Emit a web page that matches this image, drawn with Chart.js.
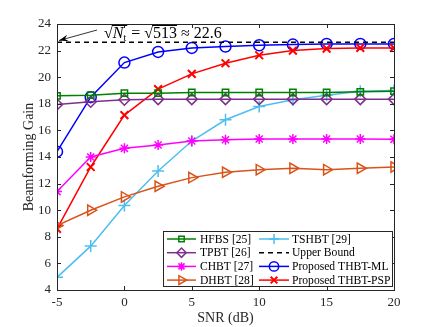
<!DOCTYPE html>
<html>
<head>
<meta charset="utf-8">
<script src="https://cdn.jsdelivr.net/npm/chart.js@4.4.1/dist/chart.umd.min.js"></script>
<style>
  html, body { margin: 0; padding: 0; background: #fff; }
  #wrap { width: 436px; height: 327px; }
</style>
</head>
<body>
<div id="wrap"><canvas id="chart" width="436" height="327"></canvas></div>
<script>
// data
const snr = [-5, -2.5, 0, 2.5, 5, 7.5, 10, 12.5, 15, 17.5, 20];
const hfbs   = [18.6, 18.65, 18.8, 18.8, 18.85, 18.85, 18.85, 18.85, 18.85, 18.9, 18.95];
const tpbt   = [17.95, 18.15, 18.3, 18.35, 18.35, 18.35, 18.35, 18.35, 18.35, 18.35, 18.35];
const chbt   = [11.4, 14.0, 14.65, 14.9, 15.2, 15.3, 15.35, 15.35, 15.35, 15.35, 15.33];
const dhbt   = [8.85, 10.0, 11.0, 11.8, 12.45, 12.85, 13.05, 13.15, 13.05, 13.15, 13.25];
const tshbt  = [4.95, 7.3, 10.35, 12.95, 15.2, 16.8, 17.8, 18.3, 18.65, 18.95, 19.0];
const upper  = [22.62, 22.62, 22.62, 22.62, 22.62, 22.62, 22.62, 22.62, 22.62, 22.62, 22.62];
const thbtMl = [14.4, 18.5, 21.1, 21.9, 22.2, 22.3, 22.4, 22.45, 22.5, 22.5, 22.5];
const thbtPsp = [8.6, 13.25, 17.15, 19.1, 20.25, 21.05, 21.65, 22.0, 22.15, 22.2, 22.2];
const yTicks = [4, 6, 8, 10, 12, 14, 16, 18, 20, 22, 24];
const xTicks = [-5, 0, 5, 10, 15, 20];

const serif = '"Liberation Serif", "DejaVu Serif", serif';
const axisColor = '#262626';

function series(label, values, color, style, extra) {
    return Object.assign({
        label: label,
        data: values.map((v, i) => ({ x: snr[i], y: v })),
        borderColor: color,
        backgroundColor: 'rgba(0,0,0,0)',
        pointBorderColor: color,
        pointBackgroundColor: 'rgba(0,0,0,0)',
        pointStyle: style,
        pointRadius: 5,
        pointBorderWidth: 1.5,
        borderWidth: 1.5,
        tension: 0
    }, extra || {});
}

const datasets = [
    series('Upper Bound', upper, '#000000', false, { borderDash: [5, 4], pointRadius: 0, borderWidth: 1.5 }),
    series('HFBS [25]', hfbs, '#008000', 'rect', { pointRadius: 4.5 }),
    series('TPBT [26]', tpbt, '#7E2F8E', 'rectRot', { pointRadius: 5.5 }),
    series('CHBT [27]', chbt, '#FF00FF', 'star', { pointRadius: 5 }),
    series('DHBT [28]', dhbt, '#D95319', 'triangle', { pointRotation: 90, pointRadius: 6 }),
    series('TSHBT [29]', tshbt, '#4DBEEE', 'cross', { pointRadius: 6 }),
    series('Proposed THBT-PSP', thbtPsp, '#FF0000', 'crossRot', { pointRadius: 5.5, pointBorderWidth: 2 }),
    series('Proposed THBT-ML', thbtMl, '#0000FF', 'circle', { pointRadius: 5.5 })
];

// legend order as in the figure: left column then right column
const legendOrder = [
    ['HFBS [25]', 'TSHBT [29]'],
    ['TPBT [26]', 'Upper Bound'],
    ['CHBT [27]', 'Proposed THBT-ML'],
    ['DHBT [28]', 'Proposed THBT-PSP']
];

// box, inward ticks, annotation and legend
const decorations = {
    id: 'decorations',
    afterDatasetsDraw(chart) {
        const ctx = chart.ctx;
        const a = chart.chartArea;
        const xs = chart.scales.x, ys = chart.scales.y;
        ctx.save();
        ctx.strokeStyle = axisColor;
        ctx.lineWidth = 1;
        ctx.strokeRect(Math.round(a.left) + 0.5, Math.round(a.top) + 0.5,
            Math.round(a.right - a.left), Math.round(a.bottom - a.top));
        ctx.beginPath();
        xTicks.forEach(v => {
            const px = Math.round(xs.getPixelForValue(v)) + 0.5;
            ctx.moveTo(px, a.bottom); ctx.lineTo(px, a.bottom - 4);
            ctx.moveTo(px, a.top); ctx.lineTo(px, a.top + 4);
        });
        yTicks.forEach(v => {
            const py = Math.round(ys.getPixelForValue(v)) + 0.5;
            ctx.moveTo(a.left, py); ctx.lineTo(a.left + 4, py);
            ctx.moveTo(a.right, py); ctx.lineTo(a.right - 4, py);
        });
        ctx.stroke();

        // annotation: sqrt(N_t) = sqrt(513) ~ 22.6
        ctx.fillStyle = '#000';
        ctx.strokeStyle = '#000';
        const base = 38;
        let x = 104;
        ctx.font = '16px ' + serif;
        ctx.fillText('\u221A', x, base);
        x += ctx.measureText('\u221A').width;
        const nStart = x;
        ctx.font = 'italic 16px ' + serif;
        ctx.fillText('N', x, base);
        x += ctx.measureText('N').width;
        ctx.font = '10px ' + serif;
        ctx.fillText('t', x, base + 3);
        x += ctx.measureText('t').width + 1;
        ctx.beginPath();
        ctx.moveTo(nStart - 1, base - 12.5); ctx.lineTo(x, base - 12.5);
        ctx.stroke();
        ctx.font = '16px ' + serif;
        ctx.fillText(' = ', x, base);
        x += ctx.measureText(' = ').width;
        ctx.fillText('\u221A', x, base);
        x += ctx.measureText('\u221A').width;
        const sStart = x;
        ctx.fillText('513', x, base);
        x += ctx.measureText('513').width;
        ctx.beginPath();
        ctx.moveTo(sStart - 1, base - 12.5); ctx.lineTo(x, base - 12.5);
        ctx.stroke();
        ctx.fillText(' \u2248 22.6', x, base);

        // arrow toward the bound line
        const x1 = 97, y1 = 30, x2 = 59, y2 = 40.5;
        ctx.beginPath();
        ctx.moveTo(x1, y1); ctx.lineTo(x2, y2);
        ctx.lineWidth = 0.8;
        ctx.stroke();
        const ang = Math.atan2(y2 - y1, x2 - x1);
        ctx.beginPath();
        ctx.moveTo(x2, y2);
        ctx.lineTo(x2 - 10 * Math.cos(ang - 0.35), y2 - 10 * Math.sin(ang - 0.35));
        ctx.lineTo(x2 - 6 * Math.cos(ang), y2 - 6 * Math.sin(ang));
        ctx.lineTo(x2 - 10 * Math.cos(ang + 0.35), y2 - 10 * Math.sin(ang + 0.35));
        ctx.closePath();
        ctx.fill();

        // legend box
        const lx = 163.5, ly = 231.5, lw = 229, lh = 55;
        ctx.fillStyle = '#fff';
        ctx.fillRect(lx, ly, lw, lh);
        ctx.strokeStyle = axisColor;
        ctx.lineWidth = 1;
        ctx.strokeRect(lx, ly, lw, lh);
        const cols = [{ l0: 167, l1: 196, tx: 200 }, { l0: 259, l1: 289, tx: 292 }];
        ctx.font = '11.6px ' + serif;
        ctx.textBaseline = 'middle';
        legendOrder.forEach((row, r) => {
            const cy = 239 + r * 13.7;
            row.forEach((name, c) => {
                const ds = chart.data.datasets.find(d => d.label === name);
                const col = cols[c];
                ctx.save();
                ctx.strokeStyle = ds.borderColor;
                ctx.lineWidth = ds.borderWidth;
                ctx.setLineDash(ds.borderDash || []);
                ctx.beginPath();
                ctx.moveTo(col.l0, cy); ctx.lineTo(col.l1, cy);
                ctx.stroke();
                ctx.restore();
                if (ds.pointStyle) {
                    ctx.save();
                    ctx.strokeStyle = ds.pointBorderColor;
                    ctx.fillStyle = 'rgba(0,0,0,0)';
                    ctx.lineWidth = ds.pointBorderWidth;
                    Chart.helpers.drawPoint(ctx, {
                        pointStyle: ds.pointStyle,
                        rotation: ds.pointRotation || 0,
                        radius: ds.pointRadius * 0.85,
                        borderWidth: ds.pointBorderWidth
                    }, (col.l0 + col.l1) / 2, cy);
                    ctx.restore();
                }
                ctx.fillStyle = '#000';
                ctx.fillText(name, col.tx, cy + 0.5);
            });
        });
        ctx.restore();
    }
};

new Chart(document.getElementById('chart'), {
    type: 'line',
    data: { datasets: datasets },
    options: {
        responsive: false,
        animation: false,
        layout: { padding: { left: 0, right: 42, top: 24, bottom: 0 } },
        plugins: {
            legend: { display: false },
            tooltip: { enabled: false }
        },
        scales: {
            x: {
                type: 'linear',
                min: -5,
                max: 20,
                afterBuildTicks: (scale) => { scale.ticks = xTicks.map(v => ({ value: v })); },
                afterFit: (scale) => { scale.height = 37; },
                grid: { display: false, drawTicks: false },
                border: { display: false },
                ticks: { color: axisColor, font: { family: serif, size: 13 }, padding: 5 },
                title: { display: true, text: 'SNR (dB)', color: axisColor, font: { family: serif, size: 14 }, padding: { top: 1, bottom: 0 } }
            },
            y: {
                type: 'linear',
                min: 4,
                max: 24,
                afterBuildTicks: (scale) => { scale.ticks = yTicks.map(v => ({ value: v })); },
                afterFit: (scale) => { scale.width = 57; },
                grid: { display: false, drawTicks: false },
                border: { display: false },
                ticks: { color: axisColor, font: { family: serif, size: 13 }, padding: 6 },
                title: { display: true, text: 'Beamforming Gain', color: axisColor, font: { family: serif, size: 14 }, padding: { top: 21, bottom: 0 } }
            }
        }
    },
    plugins: [decorations]
});
</script>
</body>
</html>
